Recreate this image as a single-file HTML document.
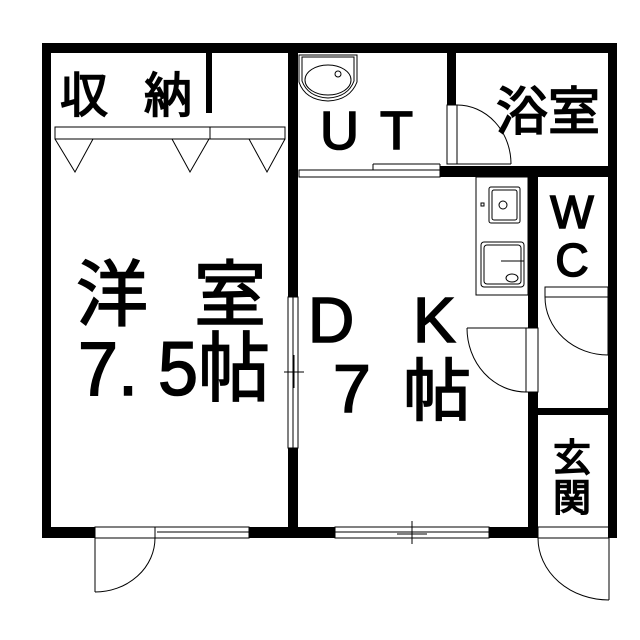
<!DOCTYPE html>
<html><head><meta charset="utf-8"><style>
html,body{margin:0;padding:0;background:#fff;}
svg{display:block}
text{font-family:"Liberation Sans","Noto Sans CJK JP",sans-serif;fill:#000;stroke:#000;stroke-width:1.6}
</style></head><body>
<svg width="640" height="640" viewBox="0 0 640 640" xmlns="http://www.w3.org/2000/svg">
<rect width="640" height="640" fill="#fff"/>
<g fill="#000">
<rect x="42" y="43" width="575" height="10"/>
<rect x="42" y="43" width="9" height="495"/>
<rect x="608" y="43" width="9" height="495"/>
<rect x="42" y="527" width="53" height="11"/>
<rect x="249" y="527" width="86" height="11"/>
<rect x="489" y="527" width="49" height="11"/>
<rect x="288" y="53" width="10" height="244"/>
<rect x="288" y="448" width="10" height="80"/>
<rect x="206" y="53" width="6" height="60"/>
<rect x="447" y="53" width="9" height="52"/>
<rect x="440" y="166" width="177" height="11"/>
<rect x="528" y="177" width="10" height="151"/>
<rect x="528" y="392" width="10" height="146"/>
<rect x="538" y="408" width="72" height="7"/>
</g>
<g fill="none" stroke="#000" stroke-width="1">
<rect x="55" y="127" width="230" height="12"/>
<line x1="210" y1="127" x2="210" y2="139"/>
<polyline points="55,139 75,172 93,139"/>
<polyline points="172,139 190,172 209,139"/>
<polyline points="249,139 267,172 285,139"/>
<path d="M299,55 L357,55 L357,82 Q350,100 328,101 Q305,100 299,82 Z"/>
<path d="M302,57 L354,57 L354,81 Q348,97 328,98 Q308,97 302,81 Z"/>
<ellipse cx="328" cy="80" rx="23" ry="15"/>
<circle cx="338" cy="74" r="3"/>
<rect x="299" y="170" width="141" height="7"/>
<line x1="373" y1="164" x2="440" y2="164"/>
<line x1="373" y1="164" x2="373" y2="170"/>
<line x1="440" y1="164" x2="440" y2="177"/>
<rect x="447" y="105" width="10" height="59"/>
<line x1="457" y1="105" x2="457" y2="164"/>
<path d="M457,105 A54,59 0 0 1 511,164"/>
<line x1="457" y1="164" x2="511" y2="164"/>
<rect x="476" y="177" width="52" height="118"/>
<rect x="489" y="187" width="31" height="36" rx="2"/>
<rect x="492" y="190" width="25" height="30" rx="2"/>
<circle cx="503" cy="205" r="4"/>
<rect x="481" y="203" width="3" height="3"/>
<rect x="481" y="242" width="43" height="45" rx="3"/>
<rect x="484" y="245" width="37" height="39" rx="3"/>
<ellipse cx="512" cy="278" rx="6" ry="4"/>
<line x1="501" y1="261" x2="524" y2="261"/>
<rect x="545" y="287" width="63" height="10"/>
<path d="M545,297 A63,58 0 0 0 608,355"/>
<line x1="608" y1="297" x2="608" y2="355"/>
<rect x="526" y="328" width="12" height="64"/>
<line x1="467" y1="328" x2="526" y2="328"/>
<path d="M467,328 A59,64 0 0 0 526,392"/>
<rect x="288" y="297" width="10" height="151"/>
<line x1="293" y1="297" x2="293" y2="448"/>
<line x1="284" y1="372" x2="304" y2="372"/>
<line x1="294" y1="355" x2="294" y2="388"/>
<rect x="95" y="527" width="154" height="11"/>
<line x1="155" y1="527" x2="155" y2="538"/>
<line x1="157" y1="532" x2="249" y2="532"/>
<line x1="95" y1="538" x2="95" y2="592"/>
<path d="M95,592 A60,54 0 0 0 155,538"/>
<rect x="335" y="527" width="154" height="11"/>
<line x1="335" y1="532" x2="489" y2="532"/>
<line x1="412" y1="521" x2="412" y2="544"/>
<line x1="397" y1="534" x2="427" y2="534"/>
<rect x="538" y="527" width="71" height="11"/>
<line x1="609" y1="538" x2="609" y2="600"/>
<path d="M538,538 A71,62 0 0 0 609,600"/>
</g>
<text x="60" y="112" font-size="48">収</text>
<text x="144" y="112" font-size="48">納</text>
<text x="320" y="149" font-size="54">U</text>
<text x="380" y="149" font-size="54">T</text>
<text x="496" y="130" font-size="52">浴室</text>
<text x="572" y="228" font-size="46" text-anchor="middle">W</text>
<text x="572" y="276" font-size="46" text-anchor="middle">C</text>
<text x="572" y="471" font-size="38" text-anchor="middle">玄</text>
<text x="572" y="511" font-size="38" text-anchor="middle">関</text>
<text x="76" y="320" font-size="72">洋</text>
<text x="194" y="320" font-size="72">室</text>
<text x="78" y="395" font-size="76" textLength="192" lengthAdjust="spacingAndGlyphs">7. 5帖</text>
<text x="308" y="342" font-size="64">D</text>
<text x="413" y="342" font-size="64">K</text>
<text x="333" y="412" font-size="68">7</text>
<text x="403" y="415" font-size="68">帖</text>
</svg>
</body></html>
